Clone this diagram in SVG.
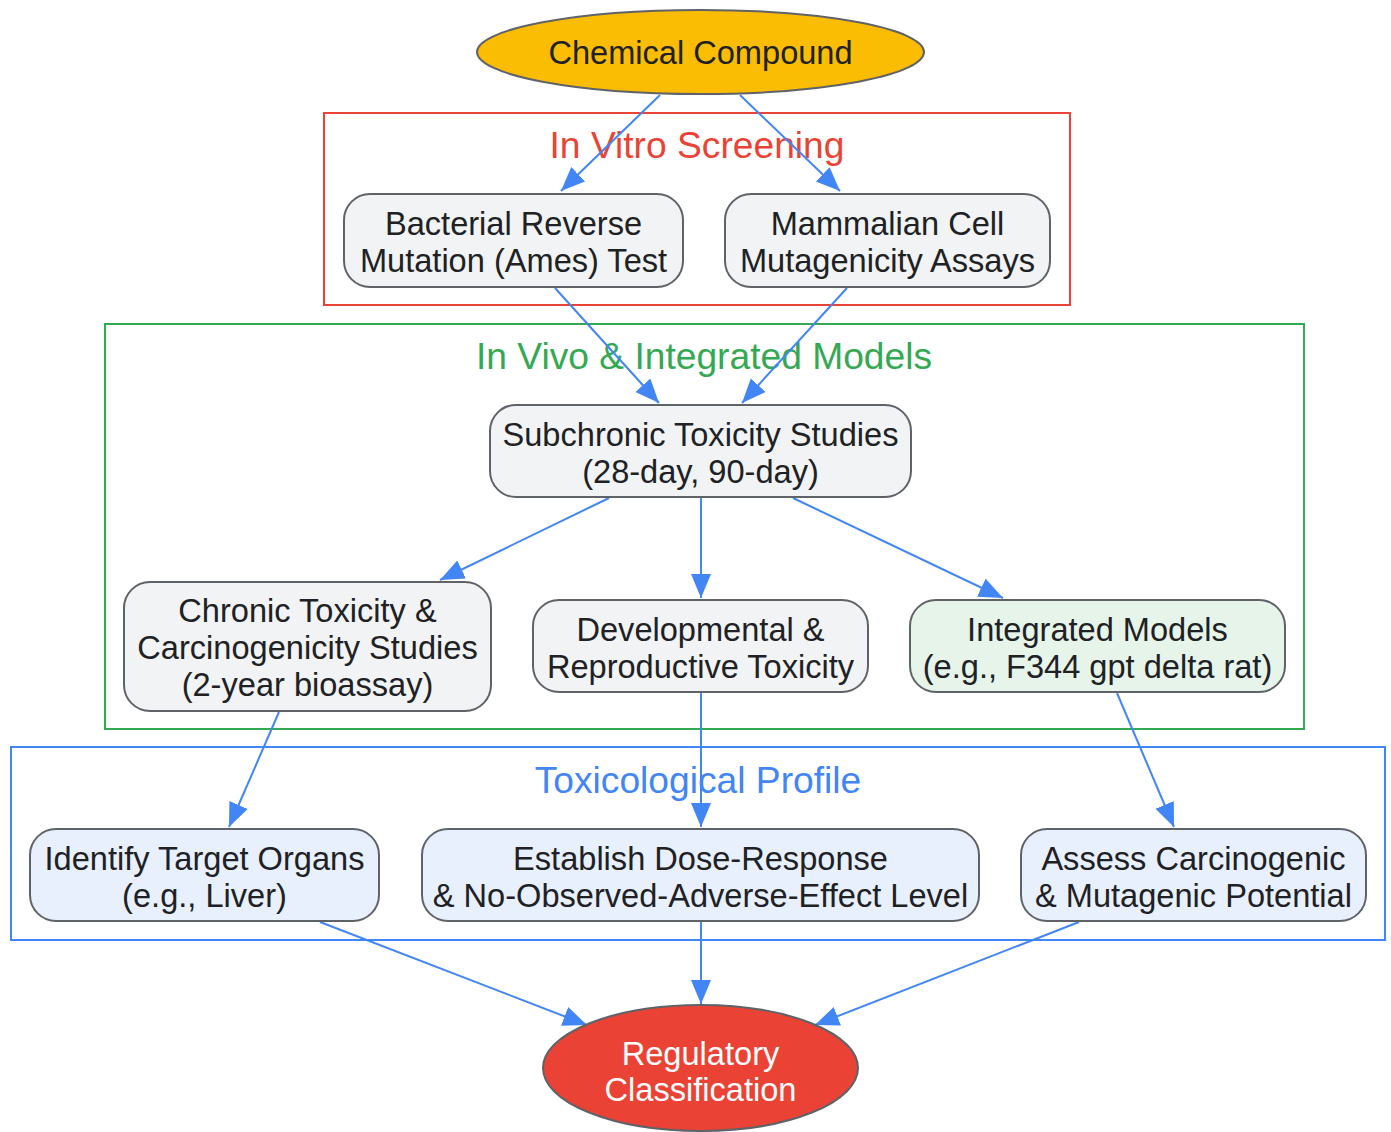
<svg xmlns="http://www.w3.org/2000/svg" width="1391" height="1132" viewBox="0 0 1391 1132">
<defs>
<marker id="arr" markerUnits="userSpaceOnUse" markerWidth="26" markerHeight="22" refX="24" refY="10" orient="auto">
<path d="M0,0 L24,10 L0,20 z" fill="#4285F4"/>
</marker>
<style>
.cl{fill:none;stroke-width:2}
.ct{font-family:"Liberation Sans",Arial,sans-serif;font-size:37.2px;text-anchor:middle}
.n{stroke:#5f6368;stroke-width:2}
.g{fill:#f1f3f4}
.b{fill:#e8f0fe}
.t{font-family:"Liberation Sans",Arial,sans-serif;font-size:32.6px;text-anchor:middle;fill:#202124}
.e line{stroke:#4285F4;stroke-width:2;marker-end:url(#arr)}
</style>
</defs>
<rect width="1391" height="1132" fill="#ffffff"/>
<g id="clusters">
<g id="cluster-invitro"><rect class="cl" x="324" y="113" width="746" height="192" stroke="#EA4335"/><text class="ct" x="697" y="158" fill="#EA4335">In Vitro Screening</text></g>
<g id="cluster-invivo"><rect class="cl" x="105" y="324" width="1199" height="405" stroke="#34A853"/><text class="ct" x="704" y="369" fill="#34A853">In Vivo &amp; Integrated Models</text></g>
<g id="cluster-profile"><rect class="cl" x="11" y="747" width="1374" height="193" stroke="#4285F4"/><text class="ct" x="698" y="793" fill="#4285F4">Toxicological Profile</text></g>
</g>
<g id="connectors" class="e">
<line x1="660" y1="95" x2="561" y2="191"/>
<line x1="740" y1="95" x2="840" y2="191"/>
<line x1="555" y1="288" x2="659" y2="403"/>
<line x1="847" y1="288" x2="742" y2="403"/>
<line x1="609" y1="498" x2="440" y2="580"/>
<line x1="701" y1="498" x2="701" y2="598"/>
<line x1="793" y1="498" x2="1003" y2="598"/>
<line x1="279" y1="712" x2="229" y2="827"/>
<line x1="701" y1="693" x2="701" y2="827"/>
<line x1="1117" y1="693" x2="1174" y2="827"/>
<line x1="320" y1="922" x2="587" y2="1025"/>
<line x1="701" y1="922" x2="701" y2="1004"/>
<line x1="1079" y1="922" x2="815" y2="1025"/>
</g>
<g id="compound"><ellipse class="n" cx="700.5" cy="52" rx="223.5" ry="42" fill="#FBBC04"/><text class="t" x="700.5" y="64">Chemical Compound</text></g>
<g id="ames"><rect class="n g" x="344" y="194" width="339" height="93" rx="26"/><text class="t" x="513.5" y="235">Bacterial Reverse</text><text class="t" x="513.5" y="272">Mutation (Ames) Test</text></g>
<g id="mammalian"><rect class="n g" x="725" y="194" width="325" height="93" rx="26"/><text class="t" x="887.5" y="235">Mammalian Cell</text><text class="t" x="887.5" y="272">Mutagenicity Assays</text></g>
<g id="subchronic"><rect class="n g" x="490" y="405" width="421" height="92" rx="26"/><text class="t" x="700.5" y="446">Subchronic Toxicity Studies</text><text class="t" x="700.5" y="483">(28-day, 90-day)</text></g>
<g id="chronic"><rect class="n g" x="124" y="582" width="367" height="129" rx="26"/><text class="t" x="307.5" y="622">Chronic Toxicity &amp;</text><text class="t" x="307.5" y="659">Carcinogenicity Studies</text><text class="t" x="307.5" y="696">(2-year bioassay)</text></g>
<g id="developmental"><rect class="n g" x="533" y="600" width="335" height="92" rx="26"/><text class="t" x="700.5" y="641">Developmental &amp;</text><text class="t" x="700.5" y="678">Reproductive Toxicity</text></g>
<g id="integrated"><rect class="n" x="910" y="600" width="375" height="92" rx="26" fill="#e6f4ea"/><text class="t" x="1097.5" y="641">Integrated Models</text><text class="t" x="1097.5" y="678">(e.g., F344 gpt delta rat)</text></g>
<g id="organs"><rect class="n b" x="30" y="829" width="349" height="92" rx="26"/><text class="t" x="204.5" y="870">Identify Target Organs</text><text class="t" x="204.5" y="907">(e.g., Liver)</text></g>
<g id="dose"><rect class="n b" x="422" y="829" width="557" height="92" rx="26"/><text class="t" x="700.5" y="870">Establish Dose-Response</text><text class="t" x="700.5" y="907">&amp; No-Observed-Adverse-Effect Level</text></g>
<g id="assess"><rect class="n b" x="1021" y="829" width="345" height="92" rx="26"/><text class="t" x="1193.5" y="870">Assess Carcinogenic</text><text class="t" x="1193.5" y="907">&amp; Mutagenic Potential</text></g>
<g id="regulatory"><ellipse class="n" cx="700.5" cy="1068" rx="157.5" ry="63" fill="#EA4335"/><text class="t" x="700.5" y="1065" style="fill:#ffffff">Regulatory</text><text class="t" x="700.5" y="1101" style="fill:#ffffff">Classification</text></g>
</svg>
